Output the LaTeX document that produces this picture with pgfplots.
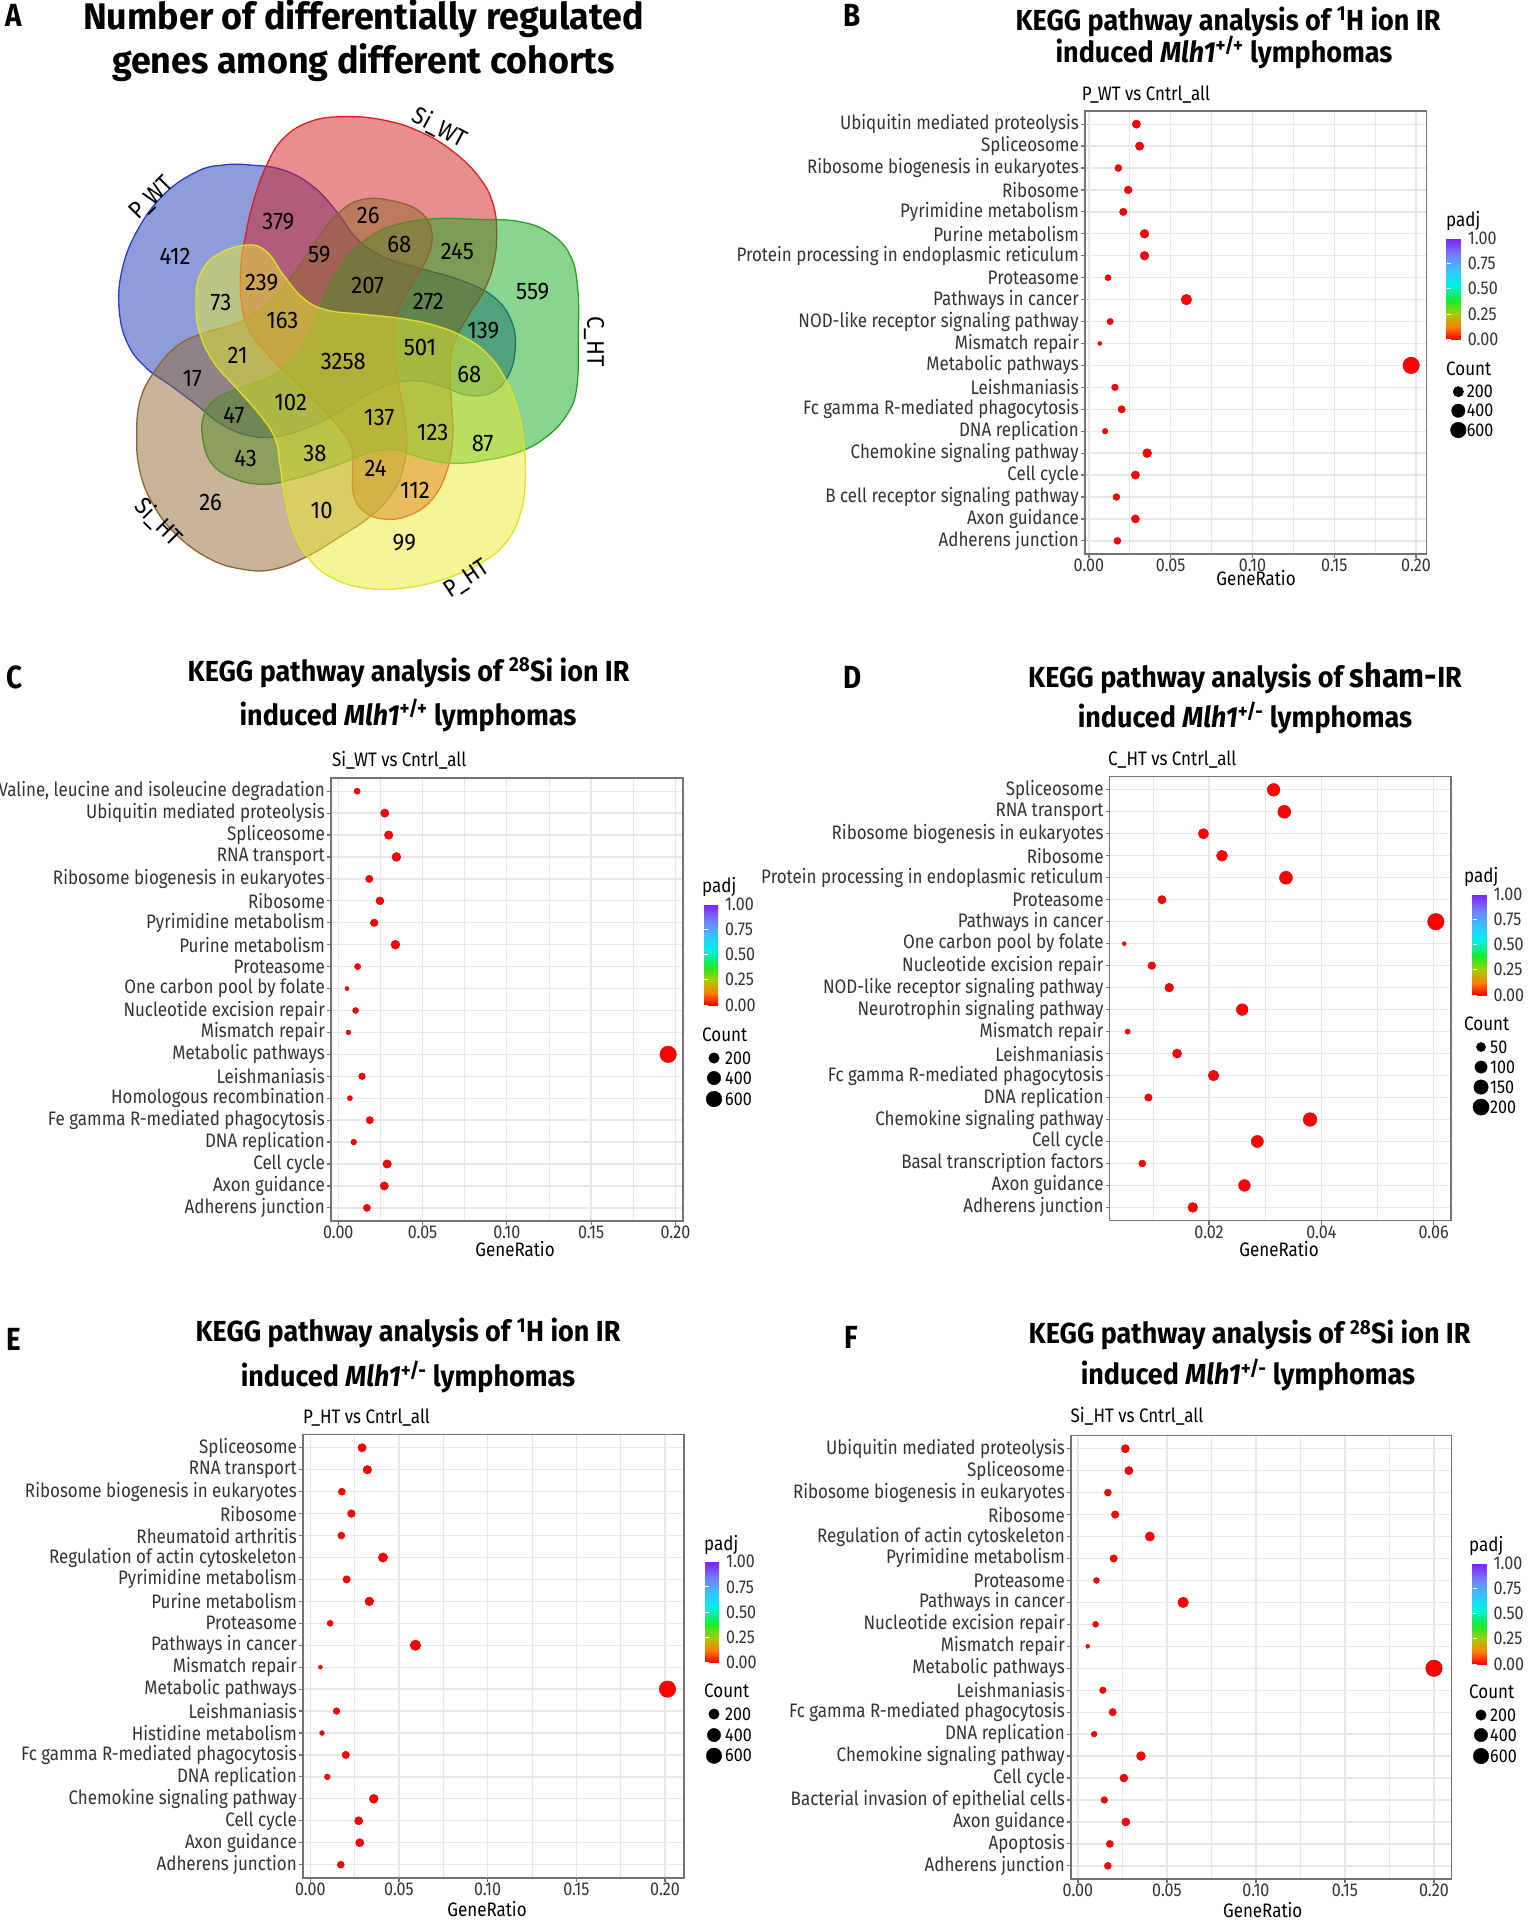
\documentclass[border=0pt]{standalone}
\usepackage{fontspec}
\setmainfont{Fira Sans}[FakeStretch=0.87]
\newfontfamily\titlefont{Fira Sans}[FakeStretch=0.93]
\newfontfamily\wideff{Fira Sans}[FakeStretch=0.97]
\newfontfamily\vennfont{Fira Sans}[FakeStretch=0.92]
\usepackage{pgfplots}
\usepackage{pgfplotstable}
\pgfplotsset{compat=1.18}

\definecolor{bluefill}{RGB}{30,60,180}\definecolor{blueline}{RGB}{40,60,200}
\definecolor{redfill}{RGB}{210,30,30}\definecolor{redline}{RGB}{220,30,30}
\definecolor{greenfill}{RGB}{20,170,30}\definecolor{greenline}{RGB}{40,160,40}
\definecolor{yellowfill}{RGB}{235,235,50}\definecolor{yellowline}{RGB}{225,225,40}
\definecolor{brownfill}{RGB}{145,105,50}\definecolor{brownline}{RGB}{140,100,50}

\newcommand\tk{\fontsize{18.5}{20}\selectfont}
\newcommand\tkl{\fontsize{19.5}{21}\selectfont}
\newcommand\ttl{\titlefont\fontsize{29}{32}\selectfont\bfseries}
\newcommand\ttA{\wideff\fontsize{37}{40}\selectfont\bfseries}
\newcommand\lab{\fontsize{32}{34}\selectfont\bfseries}
\newcommand\vn{\vennfont\fontsize{24}{26}\selectfont}

\pgfplotsset{colormap={kegg}{rgb255(0pt)=(255,0,0) rgb255(12pt)=(255,125,0) rgb255(25pt)=(165,205,0) rgb255(38pt)=(25,235,45) rgb255(55pt)=(0,240,235) rgb255(70pt)=(60,190,255) rgb255(84pt)=(115,125,255) rgb255(100pt)=(128,30,255)}}

\pgfplotsset{
 keggaxis/.style={
  scale only axis,
  ymin=0.4, ymax=20.6, ytick={1,...,20},
  axis line style={draw=black!55, line width=1.5pt},
  grid=both,
  major grid style={draw=black!9, line width=1.3pt},
  minor grid style={draw=black!9, line width=0.7pt},
  xtick pos=left, ytick pos=left,
  tick align=outside,
  major tick length=4pt, minor tick length=0pt,
  every tick/.style={draw=black!55, line width=1.2pt},
  scaled x ticks=false,
  xticklabel={\pgfmathprintnumber[fixed,fixed zerofill,precision=2,assume math mode=true]{\tick}},
  xticklabel style={font=\tk, text=black!80, inner sep=1pt},
  yticklabel style={font=\tkl, text=black!80, inner sep=2pt},
  point meta min=0, point meta max=1,
  colormap name=kegg,
  colorbar,
  colorbar style={anchor=north west, scale only axis, width=20pt, height=101pt,
    grid=none, ytick={0,0.25,0.5,0.75,1},
    yticklabel={\pgfmathprintnumber[fixed,fixed zerofill,precision=2,assume math mode=true]{\tick}},
    yticklabel style={font=\tk, text=black!80, inner sep=1pt},
    major tick length=4pt, tick align=inside, ytick pos=both, yticklabel pos=right,
    every tick/.style={draw=white, line width=0.8pt},
    axis line style={draw=none}},
 },
 dots/.style 2 args={scatter, only marks, mark=*, point meta=\thisrow{padj},
   visualization depends on={1.25*(1.6+5*sqrt((\thisrow{count}-#1)/(#2-#1))) \as \rad},
   scatter/@pre marker code/.append style={/tikz/mark size=\rad}},
 legdots/.style 2 args={scatter, only marks, mark=*, point meta=\thisrow{c},
   scatter/use mapped color={draw=black, fill=black},
   visualization depends on={1.25*(1.6+5*sqrt((\thisrow{c}-#1)/(#2-#1))) \as \rad},
   scatter/@pre marker code/.append style={/tikz/mark size=\rad}},
}

\pgfplotstableread{
y ratio count padj
1 0.0174 61 0
2 0.0284 99 0
3 0.0168 59 0
4 0.0284 99 0
5 0.0356 125 0
6 0.0099 35 0
7 0.0200 70 0
8 0.0159 56 0
9 0.1970 690 0
10 0.0066 23 0
11 0.0130 46 0
12 0.0596 209 0
13 0.0117 41 0
14 0.0340 119 0
15 0.0340 119 0
16 0.0210 74 0
17 0.0240 84 0
18 0.0180 63 0
19 0.0310 109 0
20 0.0290 102 0
}\tabB

\pgfplotstableread{
y ratio count padj
1 0.0170 60 0
2 0.0273 96 0
3 0.0290 102 0
4 0.0092 32 0
5 0.0187 65 0
6 0.0069 24 0
7 0.0141 49 0
8 0.1957 685 0
9 0.0060 21 0
10 0.0103 36 0
11 0.0052 18 0
12 0.0115 40 0
13 0.0339 119 0
14 0.0213 75 0
15 0.0247 86 0
16 0.0184 64 0
17 0.0345 121 0
18 0.0299 105 0
19 0.0276 97 0
20 0.0112 39 0
}\tabC

\pgfplotstableread{
y ratio count padj
1 0.0171 59 0
2 0.0263 91 0
3 0.0081 28 0
4 0.0286 99 0
5 0.0380 131 0
6 0.0092 32 0
7 0.0208 72 0
8 0.0143 49 0
9 0.0055 19 0
10 0.0259 89 0
11 0.0129 45 0
12 0.0098 34 0
13 0.0049 17 0
14 0.0604 208 0
15 0.0116 40 0
16 0.0337 116 0
17 0.0223 77 0
18 0.0190 66 0
19 0.0334 115 0
20 0.0315 109 0
}\tabD

\pgfplotstableread{
y ratio count padj
1 0.0172 60 0
2 0.0279 98 0
3 0.0273 96 0
4 0.0358 125 0
5 0.0096 34 0
6 0.0200 70 0
7 0.0066 23 0
8 0.0148 52 0
9 0.2014 705 0
10 0.0057 20 0
11 0.0593 208 0
12 0.0112 39 0
13 0.0333 117 0
14 0.0205 72 0
15 0.0410 144 0
16 0.0175 61 0
17 0.0232 81 0
18 0.0178 62 0
19 0.0322 113 0
20 0.0292 102 0
}\tabE

\pgfplotstableread{
y ratio count padj
1 0.0168 59 0
2 0.0179 63 0
3 0.0269 94 0
4 0.0148 52 0
5 0.0258 90 0
6 0.0354 124 0
7 0.0091 32 0
8 0.0195 68 0
9 0.0140 49 0
10 0.2000 700 0
11 0.0055 19 0
12 0.0099 35 0
13 0.0591 207 0
14 0.0104 36 0
15 0.0201 70 0
16 0.0404 141 0
17 0.0209 73 0
18 0.0168 59 0
19 0.0286 100 0
20 0.0266 93 0
}\tabF

\begin{document}
\begin{tikzpicture}
\useasboundingbox (0,0) rectangle (1527pt,-1920pt);

% ---------------- Venn diagram (A) ----------------
\begin{axis}[at={(360pt,-355pt)}, anchor=center, scale only axis, width=500pt, height=500pt,
  xmin=0, xmax=1500, ymin=0, ymax=1500, y dir=reverse, hide axis, clip=false]
\fill[fill=bluefill, fill opacity=0.5, draw=blueline, line width=1.3pt] plot[smooth cycle, tension=0.7] coordinates {
(420,180) (520,195) (610,245) (680,320) (740,400) (820,455) (930,490) (1050,525) (1150,575) (1205,650) (1215,740) (1190,820) (1140,865) (1070,870) (1000,845) (930,828) (850,835) (770,870) (690,920) (600,965) (500,995) (410,990) (330,955) (260,900) (180,840) (110,790) (55,720) (28,620) (35,500) (80,380) (160,270) (260,200) (340,180)};
\fill[fill=redfill, fill opacity=0.5, draw=redline, line width=1.3pt] plot[smooth cycle, tension=0.7] coordinates {
(520,100) (600,50) (700,35) (820,45) (930,80) (1030,140) (1110,220) (1150,300) (1160,390) (1150,480) (1120,560) (1070,640) (1030,720) (1020,810) (1025,900) (1028,1000) (1010,1100) (965,1185) (895,1232) (820,1242) (760,1218) (730,1165) (728,1090) (722,1020) (690,970) (630,905) (555,830) (470,745) (415,670) (393,580) (393,480) (405,400) (430,290) (470,180)};
\fill[fill=greenfill, fill opacity=0.5, draw=greenline, line width=1.3pt] plot[smooth cycle, tension=0.7] coordinates {
(760,410) (840,365) (960,342) (1100,343) (1230,350) (1320,385) (1380,450) (1403,550) (1405,700) (1400,850) (1370,930) (1310,995) (1230,1040) (1130,1065) (1030,1075) (940,1060) (860,1035) (790,1040) (720,1065) (640,1095) (550,1122) (460,1138) (370,1120) (305,1075) (278,1000) (282,930) (320,880) (400,845) (480,815) (545,765) (590,700) (625,620) (660,540) (705,465)};
\fill[fill=brownfill, fill opacity=0.5, draw=brownline, line width=1.3pt] plot[smooth cycle, tension=0.7] coordinates {
(760,283) (850,288) (930,320) (965,380) (955,450) (910,530) (865,615) (850,700) (858,800) (878,900) (890,1000) (882,1080) (850,1160) (780,1235) (690,1295) (590,1355) (490,1393) (400,1393) (300,1362) (200,1290) (130,1200) (90,1100) (80,990) (92,880) (140,790) (205,720) (285,683) (380,655) (445,620) (510,560) (570,480) (630,390) (690,320)};
\fill[fill=yellowfill, fill opacity=0.5, draw=yellowline, line width=1.3pt] plot[smooth cycle, tension=0.7] coordinates {
(410,420) (470,440) (520,510) (580,580) (650,615) (760,628) (870,640) (970,660) (1060,695) (1130,745) (1185,820) (1225,920) (1243,1030) (1245,1140) (1230,1230) (1190,1310) (1120,1370) (1010,1420) (890,1448) (770,1450) (670,1420) (600,1365) (550,1280) (525,1180) (510,1080) (495,1000) (450,930) (380,850) (310,770) (268,680) (258,590) (270,510) (320,450)};
\begin{scope}[every node/.style={font=\vn, inner sep=0pt}]
\node at (195,455) {412}; \node at (505,350) {379}; \node at (775,330) {26};
\node at (628,450) {59}; \node at (868,418) {68}; \node at (1042,440) {245};
\node at (1268,560) {559}; \node at (455,533) {239}; \node at (773,540) {207};
\node at (333,593) {73}; \node at (955,590) {272}; \node at (517,645) {163};
\node at (1120,676) {139}; \node at (383,750) {21}; \node at (700,770) {3258};
\node at (930,728) {501}; \node at (247,820) {17}; \node at (1078,808) {68};
\node at (542,893) {102}; \node at (372,932) {47}; \node at (808,938) {137};
\node at (968,983) {123}; \node at (1118,1015) {87}; \node at (407,1060) {43};
\node at (615,1045) {38}; \node at (797,1090) {24}; \node at (915,1155) {112};
\node at (302,1193) {26}; \node at (635,1215) {10}; \node at (883,1313) {99};
\node[rotate=45] at (125,280) {P\_WT};
\node[rotate=-28] at (990,68) {Si\_WT};
\node[rotate=-90] at (1452,710) {C\_HT};
\node[rotate=34] at (1072,1422) {P\_HT};
\node[rotate=-45] at (145,1252) {Si\_HT};
\end{scope}
\end{axis}

% ---------------- B ----------------
\begin{axis}[keggaxis, at={(1085pt,-554pt)}, anchor=south west, width=341.5pt, height=443pt,
  xmin=-0.0024, xmax=0.2064, xtick={0,0.05,0.1,0.15,0.2}, minor xtick={0.025,0.075,0.125,0.175},
  colorbar style={at={(1.0592,0.7126)}},
  yticklabels={Adherens junction, Axon guidance, B cell receptor signaling pathway, Cell cycle, Chemokine signaling pathway, DNA replication, Fc gamma R-mediated phagocytosis, Leishmaniasis, Metabolic pathways, Mismatch repair, NOD-like receptor signaling pathway, Pathways in cancer, Proteasome, Protein processing in endoplasmic reticulum, Purine metabolism, Pyrimidine metabolism, Ribosome, Ribosome biogenesis in eukaryotes, Spliceosome, Ubiquitin mediated proteolysis}]
\addplot[dots={23}{690}] table[x=ratio, y=y] {\tabB};
\end{axis}

% ---------------- C ----------------
\begin{axis}[keggaxis, at={(331pt,-1221pt)}, anchor=south west, width=352pt, height=443pt,
  xmin=-0.0043, xmax=0.2045, xtick={0,0.05,0.1,0.15,0.2}, minor xtick={0.025,0.075,0.125,0.175},
  colorbar style={at={(1.0597,0.7156)}},
  yticklabels={Adherens junction, Axon guidance, Cell cycle, DNA replication, Fe gamma R-mediated phagocytosis, Homologous recombination, Leishmaniasis, Metabolic pathways, Mismatch repair, Nucleotide excision repair, One carbon pool by folate, Proteasome, Purine metabolism, Pyrimidine metabolism, Ribosome, Ribosome biogenesis in eukaryotes, RNA transport, Spliceosome, Ubiquitin mediated proteolysis, {Valine, leucine and isoleucine degradation}}]
\addplot[dots={18}{685}] table[x=ratio, y=y] {\tabC};
\end{axis}

% ---------------- D ----------------
\begin{axis}[keggaxis, at={(1109.7pt,-1220.6pt)}, anchor=south west, width=341.3pt, height=444pt,
  xmin=0.0023, xmax=0.0631, xtick={0.02,0.04,0.06}, minor xtick={0.01,0.03,0.05},
  colorbar style={at={(1.063,0.7356)}},
  yticklabels={Adherens junction, Axon guidance, Basal transcription factors, Cell cycle, Chemokine signaling pathway, DNA replication, Fc gamma R-mediated phagocytosis, Leishmaniasis, Mismatch repair, Neurotrophin signaling pathway, NOD-like receptor signaling pathway, Nucleotide excision repair, One carbon pool by folate, Pathways in cancer, Proteasome, Protein processing in endoplasmic reticulum, Ribosome, Ribosome biogenesis in eukaryotes, RNA transport, Spliceosome}]
\addplot[dots={17}{208}] table[x=ratio, y=y] {\tabD};
\end{axis}

% ---------------- E ----------------
\begin{axis}[keggaxis, at={(303pt,-1877.8pt)}, anchor=south west, width=381pt, height=443.2pt,
  xmin=-0.0041, xmax=0.2107, xtick={0,0.05,0.1,0.15,0.2}, minor xtick={0.025,0.075,0.125,0.175},
  colorbar style={at={(1.0551,0.7135)}},
  yticklabels={Adherens junction, Axon guidance, Cell cycle, Chemokine signaling pathway, DNA replication, Fc gamma R-mediated phagocytosis, Histidine metabolism, Leishmaniasis, Metabolic pathways, Mismatch repair, Pathways in cancer, Proteasome, Purine metabolism, Pyrimidine metabolism, Regulation of actin cytoskeleton, Rheumatoid arthritis, Ribosome, Ribosome biogenesis in eukaryotes, RNA transport, Spliceosome}]
\addplot[dots={20}{705}] table[x=ratio, y=y] {\tabE};
\end{axis}

% ---------------- F ----------------
\begin{axis}[keggaxis, at={(1071pt,-1879pt)}, anchor=south west, width=380.4pt, height=443.5pt,
  xmin=-0.0039, xmax=0.2098, xtick={0,0.05,0.1,0.15,0.2}, minor xtick={0.025,0.075,0.125,0.175},
  colorbar style={at={(1.0555,0.7125)}},
  yticklabels={Adherens junction, Apoptosis, Axon guidance, Bacterial invasion of epithelial cells, Cell cycle, Chemokine signaling pathway, DNA replication, Fc gamma R-mediated phagocytosis, Leishmaniasis, Metabolic pathways, Mismatch repair, Nucleotide excision repair, Pathways in cancer, Proteasome, Pyrimidine metabolism, Regulation of actin cytoskeleton, Ribosome, Ribosome biogenesis in eukaryotes, Spliceosome, Ubiquitin mediated proteolysis}]
\addplot[dots={19}{700}] table[x=ratio, y=y] {\tabF};
\end{axis}

% ---------------- Count legends (overlay in pixel units) ----------------
\begin{axis}[at={(763.5pt,-960pt)}, anchor=center, scale only axis, width=1527pt, height=1920pt,
  xmin=0, xmax=1527, ymin=0, ymax=1920, y dir=reverse, hide axis, clip=false]
\addplot[legdots={23}{690}] table {
x y c
1458.3 391.7 200
1458.3 410.7 400
1458.3 430.0 600
};
\addplot[legdots={18}{685}] table {
x y c
714 1058 200
714 1078 400
714 1099 600
};
\addplot[legdots={17}{208}] table {
x y c
1481 1047 50
1481 1067 100
1481 1087 150
1481 1107 200
};
\addplot[legdots={20}{705}] table {
x y c
714 1714 200
714 1735 400
714 1755.7 600
};
\addplot[legdots={19}{700}] table {
x y c
1481 1715 200
1481 1735 400
1481 1756 600
};
\end{axis}

% ---------------- texts ----------------
\begin{scope}[x=1pt, y=-1pt, every node/.style={inner sep=0pt}]
% panel letters
\node[font=\lab, anchor=base west] at (5,26.8) {A};
\node[font=\lab, anchor=base west] at (843,26.8) {B};
\node[font=\lab, anchor=base west] at (6,688) {C};
\node[font=\lab, anchor=base west] at (843,688) {D};
\node[font=\lab, anchor=base west] at (6,1350) {E};
\node[font=\lab, anchor=base west] at (844,1348) {F};
% titles
\node[font=\ttA, anchor=base] at (363.5,29) {Number of differentially regulated};
\node[font=\ttA, anchor=base] at (363.5,73) {genes among different cohorts};
\node[font=\ttl, anchor=base] at (1228,30) {KEGG pathway analysis of \textsuperscript{1}H ion IR};
\node[font=\ttl, anchor=base] at (1224,62) {induced \textit{Mlh1}\textsuperscript{+/+} lymphomas};
\node[font=\ttl, anchor=base] at (408.6,681) {KEGG pathway analysis of \textsuperscript{28}Si ion IR};
\node[font=\ttl, anchor=base] at (408,725) {induced \textit{Mlh1}\textsuperscript{+/+} lymphomas};
\node[font=\ttl, anchor=base] at (1245,687.4) {KEGG pathway analysis of {\fontsize{33}{34}\selectfont sham-}IR};
\node[font=\ttl, anchor=base] at (1245,727.6) {induced \textit{Mlh1}\textsuperscript{+/-} lymphomas};
\node[font=\ttl, anchor=base] at (408,1341.4) {KEGG pathway analysis of \textsuperscript{1}H ion IR};
\node[font=\ttl, anchor=base] at (408,1386.4) {induced \textit{Mlh1}\textsuperscript{+/-} lymphomas};
\node[font=\ttl, anchor=base] at (1249.6,1343.4) {KEGG pathway analysis of \textsuperscript{28}Si ion IR};
\node[font=\ttl, anchor=base] at (1248,1384.4) {induced \textit{Mlh1}\textsuperscript{+/-} lymphomas};
% subtitles
\node[font=\tkl, anchor=base west] at (1081.7,100) {P\_WT vs Cntrl\_all};
\node[font=\tkl, anchor=base west] at (332,766.6) {Si\_WT vs Cntrl\_all};
\node[font=\tkl, anchor=base west] at (1108,765.8) {C\_HT vs Cntrl\_all};
\node[font=\tkl, anchor=base west] at (303,1423.8) {P\_HT vs Cntrl\_all};
\node[font=\tkl, anchor=base west] at (1070.5,1422.6) {Si\_HT vs Cntrl\_all};
% x labels
\node[font=\tkl, anchor=base] at (1256,585.5) {GeneRatio};
\node[font=\tkl, anchor=base] at (515,1256.8) {GeneRatio};
\node[font=\tkl, anchor=base] at (1279,1256.8) {GeneRatio};
\node[font=\tkl, anchor=base] at (487,1916.8) {GeneRatio};
\node[font=\tkl, anchor=base] at (1262.7,1917.6) {GeneRatio};
% legend titles
\node[font=\tkl, anchor=base west] at (1446,226.7) {padj};
\node[font=\tkl, anchor=base west] at (1446,375) {Count};
\node[font=\tkl, anchor=base west] at (702,892.4) {padj};
\node[font=\tkl, anchor=base west] at (702,1041.3) {Count};
\node[font=\tkl, anchor=base west] at (1464,882.4) {padj};
\node[font=\tkl, anchor=base west] at (1464,1030.3) {Count};
\node[font=\tkl, anchor=base west] at (704,1550) {padj};
\node[font=\tkl, anchor=base west] at (704,1697.3) {Count};
\node[font=\tkl, anchor=base west] at (1469,1551.4) {padj};
\node[font=\tkl, anchor=base west] at (1469,1698.3) {Count};
% count labels
\begin{scope}[every node/.style={font=\tk, anchor=west, inner sep=0pt}]
\node at (1466.7,391.7) {200}; \node at (1466.7,410.7) {400}; \node at (1466.7,430) {600};
\node at (725,1058) {200}; \node at (725,1078) {400}; \node at (725,1099) {600};
\node at (1490,1047) {50}; \node at (1490,1067) {100}; \node at (1490,1087) {150}; \node at (1490,1107) {200};
\node at (725,1714) {200}; \node at (725,1735) {400}; \node at (725,1755.7) {600};
\node at (1490,1715) {200}; \node at (1490,1735) {400}; \node at (1490,1756) {600};
\end{scope}
\end{scope}
\end{tikzpicture}
\end{document}
